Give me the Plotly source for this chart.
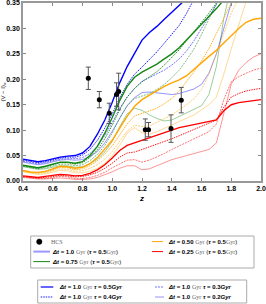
import plotly.graph_objects as go

# ---------------- data ----------------
Z = [0.40, 0.45, 0.50, 0.55, 0.60, 0.65, 0.70, 0.75, 0.80, 0.85, 0.90, 0.95,
     1.00, 1.05, 1.10, 1.15, 1.20, 1.25, 1.30, 1.35, 1.40, 1.45, 1.50, 1.55,
     1.60, 1.65, 1.70, 1.75, 1.80, 1.85, 1.90, 1.95, 2.00]

blue_t05 = [.043, .040, .038, .040, .044, .047, .049, .050, .055, .068, .092, .120,
            .155, .193, .225, .250, .277, .292, .304, .318, .332, .348, .362, .376,
            .388, .400, .410, .420, .430, .440, .450, .460, .470]
blue_t04 = [.041, .038, .036, .038, .042, .045, .047, .047, .051, .062, .080, .104,
            .132, .163, .190, .210, .224, .238, .254, .271, .289, .306, .330, .358,
            .380, .400, .420, .440, .460, .480, .500, .520, .540]
blue_t03 = [.039, .036, .034, .036, .040, .043, .044, .044, .046, .054, .068, .090,
            .115, .143, .165, .182, .196, .203, .210, .218, .228, .240, .256, .276,
            .300, .325, .350, .375, .400, .420, .440, .460, .480]
blue_t02 = [.037, .034, .032, .034, .038, .041, .042, .041, .042, .048, .058, .075,
            .098, .124, .148, .164, .174, .175, .173, .171, .170, .172, .177, .181,
            .190, .212, .250, .300, .350, .400, .450, .500, .550]

green_t05 = [.031, .028, .026, .029, .033, .037, .037, .035, .038, .050, .068, .094,
             .125, .158, .186, .204, .214, .222, .230, .240, .250, .262, .277, .294,
             .309, .324, .339, .356, .370, .380, .390, .400, .410]
green_t04 = [.030, .027, .025, .028, .032, .036, .036, .033, .036, .046, .061, .083,
             .110, .140, .165, .182, .195, .205, .215, .228, .242, .258, .276, .295,
             .312, .330, .350, .370, .390, .400, .410, .420, .430]
green_t03 = [.029, .026, .024, .026, .030, .033, .033, .030, .032, .040, .052, .070,
             .094, .124, .148, .162, .167, .172, .180, .190, .203, .218, .238, .260,
             .288, .318, .350, .380, .400, .420, .440, .460, .480]
green_t02 = [.028, .025, .023, .024, .027, .030, .030, .027, .028, .034, .043, .057,
             .078, .107, .132, .143, .139, .130, .123, .118, .120, .127, .135, .142,
             .148, .170, .225, .320, .400, .450, .500, .550, .600]

orange_t05 = [.021, .018, .017, .019, .024, .029, .028, .025, .027, .034, .046, .062,
              .080, .104, .127, .147, .160, .169, .178, .186, .193, .199, .207, .220,
              .232, .245, .257, .272, .287, .300, .312, .318, .320]
orange_t04 = [.020, .017, .016, .018, .022, .027, .026, .022, .024, .030, .040, .053,
              .069, .090, .112, .128, .133, .137, .143, .152, .162, .177, .195, .215,
              .236, .260, .290, .320, .350, .380, .400, .420, .440]
orange_t03 = [.019, .016, .015, .016, .020, .024, .023, .019, .020, .025, .032, .043,
              .058, .078, .098, .110, .107, .108, .115, .122, .130, .140, .150, .162,
              .180, .210, .250, .290, .330, .360, .390, .420, .450]
orange_t02 = [.018, .015, .013, .014, .017, .021, .020, .016, .016, .019, .025, .035,
              .050, .070, .094, .105, .095, .092, .097, .103, .110, .117, .123, .130,
              .140, .150, .165, .210, .260, .310, .360, .400, .440]

red_t05 = [.010, .008, .007, .009, .011, .013, .012, .010, .011, .015, .022, .032,
           .045, .060, .070, .075, .079, .085, .090, .095, .100, .105, .108, .111,
           .114, .117, .120, .138, .150, .154, .156, .158, .160]
red_t04 = [.009, .007, .006, .007, .009, .011, .010, .008, .009, .012, .017, .025,
           .035, .047, .055, .057, .062, .067, .072, .077, .083, .089, .095, .101,
           .107, .113, .120, .145, .165, .172, .177, .180, .182]
red_t03 = [.008, .006, .005, .005, .007, .009, .008, .005, .005, .007, .011, .017,
           .026, .034, .041, .042, .037, .041, .047, .054, .062, .069, .076, .083,
           .090, .097, .112, .160, .195, .205, .212, .218, .222]
red_t02 = [.007, .005, .004, .004, .005, .006, .005, .003, .003, .004, .007, .012,
           .018, .025, .030, .030, .022, .024, .030, .036, .042, .046, .050, .053,
           .057, .062, .075, .130, .190, .218, .233, .244, .250]

hcs_z = [0.839, 0.913, 0.980, 1.029, 1.043, 1.222, 1.244, 1.395, 1.464]
hcs_v = [0.202, 0.160, 0.133, 0.170, 0.176, 0.101, 0.101, 0.103, 0.159]
hcs_err = [0.022, 0.016, 0.020, 0.023, 0.036, 0.021, 0.014, 0.027, 0.025]

x_ticks = [0.4, 0.6, 0.8, 1.0, 1.2, 1.4, 1.6, 1.8, 2.0]
y_ticks = [0.00, 0.05, 0.10, 0.15, 0.20, 0.25, 0.30, 0.35]

# ---------------- styles ----------------
BASE = {"blue": (0, 0, 255), "green": (20, 135, 20), "orange": (255, 165, 0), "red": (255, 0, 0)}
families = [
    ("red", "0.25", [red_t02, red_t03, red_t04, red_t05]),
    ("orange", "0.50", [orange_t02, orange_t03, orange_t04, orange_t05]),
    ("green", "0.75", [green_t02, green_t03, green_t04, green_t05]),
    ("blue", "1.0", [blue_t02, blue_t03, blue_t04, blue_t05]),
]
taus = ["0.2", "0.3", "0.4", "0.5"]
tau_style = {
    "0.2": dict(alpha=0.42, width=1.0, dash="solid"),
    "0.3": dict(alpha=0.55, width=1.0, dash="2px,1px"),
    "0.4": dict(alpha=0.9, width=1.0, dash="1.5px,1px"),
    "0.5": dict(alpha=1.0, width=1.4, dash="solid"),
}

def rgba(c, a):
    r, g, b = BASE[c]
    return f"rgba({r},{g},{b},{a})"

fig = go.Figure()
for tau_i, tau in enumerate(taus):
    for cname, dt, series in families:
        st = tau_style[tau]
        fig.add_trace(go.Scatter(
            x=Z, y=series[tau_i], mode="lines",
            name=f"Δt = {dt} Gyr τ = {tau} Gyr",
            line=dict(color=rgba(cname, st["alpha"]), width=st["width"], dash=st["dash"]),
            showlegend=False, hoverinfo="skip"))

fig.add_trace(go.Scatter(
    x=hcs_z, y=hcs_v, mode="markers", name="HCS",
    marker=dict(color="black", size=5),
    error_y=dict(type="data", array=hcs_err, color="#555555", thickness=1, width=2.5),
    showlegend=False))

# ---------------- layout ----------------
L, R, T, B = 23, 261, 3, 181

def fx(p):
    return (p - L) / (R - L)

def fy(p):
    return (B - p) / (B - T)

fig.update_layout(
    width=266, height=304,
    margin=dict(l=L, r=266 - R, t=T, b=304 - B, pad=0),
    plot_bgcolor="white", paper_bgcolor="white",
    showlegend=False,
    font=dict(family="Liberation Sans", size=7, color="black"),
)
axis_common = dict(
    ticks="inside", ticklen=3, tickwidth=1, tickcolor="#888888",
    showline=True, linecolor="#999999", linewidth=1.5, mirror="ticks",
    showgrid=False, zeroline=False, automargin=False, ticklabeloverflow="allow",
    tickfont=dict(size=7, weight="bold", family="Liberation Sans"),
)
fig.update_xaxes(range=[0.4, 2.0], tickvals=x_ticks, tickformat=".1f",
                 title=dict(text="<b><i>z</i></b>", font=dict(size=8), standoff=4),
                 **axis_common)
fig.update_yaxes(range=[0.0, 0.35], tickvals=y_ticks, tickformat=".2f",
                 title=dict(text="(V − I)<sub>σ</sub>", font=dict(size=6), standoff=2),
                 **axis_common)

SERIF = "font-family:Liberation Serif;font-weight:normal;color:#666666"

def leg1_text(dt):
    return (f"<b><i>Δt</i> = {dt}</b> <span style=\"{SERIF}\">Gyr</span> "
            f"(<b><i>τ</i> = 0.5</b><span style=\"{SERIF}\">Gyr</span>)")

def leg2_text(tau):
    return (f"<b><i>Δt</i> = 1.0</b> <span style=\"{SERIF}\">Gyr</span> "
            f"<b><i>τ</i> = {tau}<i>Gyr</i></b>")

shapes = []
annotations = []

shapes.append(dict(type="rect", xref="paper", yref="paper",
                   x0=fx(30.7), x1=fx(254), y0=fy(236), y1=fy(268),
                   line=dict(color="#aaaaaa", width=1), fillcolor="white", layer="above"))
shapes.append(dict(type="rect", xref="paper", yref="paper",
                   x0=fx(37.7), x1=fx(246.7), y0=fy(280), y1=fy(303),
                   line=dict(color="#aaaaaa", width=1), fillcolor="white", layer="above"))
shapes.append(dict(type="circle", xref="paper", yref="paper",
                   x0=fx(36.6), x1=fx(42.0), y0=fy(239.0), y1=fy(244.4),
                   line=dict(color="black", width=0.5), fillcolor="black", layer="above"))

def leg_line(x0, x1, y, color, width, dash="solid"):
    shapes.append(dict(type="line", xref="paper", yref="paper",
                       x0=fx(x0), x1=fx(x1), y0=fy(y), y1=fy(y),
                       line=dict(color=color, width=width, dash=dash), layer="above"))

def leg_text(x, y, text):
    annotations.append(dict(xref="paper", yref="paper", x=fx(x), y=fy(y),
                            xanchor="left", yanchor="middle", showarrow=False,
                            text=text, font=dict(size=6, family="Liberation Sans", color="black"),
                            borderpad=0))

r1, r2, r3 = 241.6, 251.6, 261.6
leg_text(49.5, r1, f"<span style=\"{SERIF}\">HCS</span>")
leg_line(33.3, 50, r2, "#9999ff", 2)
leg_text(51, r2, leg1_text("1.0"))
leg_line(33.3, 50, r3, rgba("green", 1), 1)
leg_text(51, r3, leg1_text("0.75"))
leg_line(152, 163, r1, rgba("orange", 1), 1)
leg_text(167, r1, leg1_text("0.50"))
leg_line(152, 163, r2, rgba("red", 1), 1)
leg_text(167, r2, leg1_text("0.25"))

q1, q2 = 287, 297
leg_line(40.7, 53.3, q1, rgba("blue", 1), 1.2)
leg_text(58, q1, leg2_text("0.5"))
leg_line(40.7, 53.3, q2, rgba("blue", 0.9), 1.0, "1.5px,1px")
leg_text(58, q2, leg2_text("0.4"))
leg_line(155, 164, q1, rgba("blue", 0.55), 1, "2px,1px")
leg_text(167, q1, leg2_text("0.3"))
leg_line(155, 164, q2, rgba("blue", 0.42), 1)
leg_text(167, q2, leg2_text("0.2"))

fig.update_layout(shapes=shapes, annotations=annotations)
fig.write_html("out.html", config={"displayModeBar": False},
               post_script="document.body.style.margin='0';document.body.style.padding='0';document.body.style.overflow='hidden';")
